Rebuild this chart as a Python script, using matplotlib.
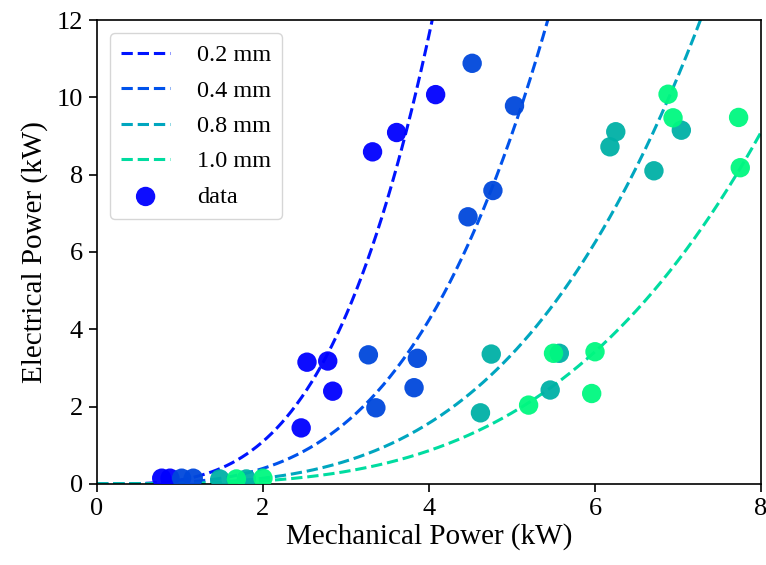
import numpy as np
import matplotlib
matplotlib.use("Agg")
import matplotlib.pyplot as plt

# Fitted curves: P_e = a * P_m ** n
gap_labels = ["0.2 mm", "0.4 mm", "0.8 mm", "1.0 mm"]
fit_a = [0.1042, 0.03806, 0.01412, 0.007734]
fit_n = [3.4, 3.4, 3.4, 3.4]
line_colors = ["#0014ff", "#0052eb", "#00a6bf", "#00dca0"]
point_colors = ["#0000ff", "#0048dc", "#00b0a6", "#00f880"]

# measured points per gap (mechanical kW, electrical kW)
mech_02 = [0.78, 0.88, 2.46, 2.53, 2.78, 2.84, 3.32, 3.61, 4.08]
elec_02 = [0.15, 0.15, 1.45, 3.15, 3.18, 2.40, 8.59, 9.09, 10.07]
mech_04 = [1.02, 1.16, 3.27, 3.36, 3.82, 3.86, 4.47, 4.52, 4.77, 5.03]
elec_04 = [0.15, 0.15, 3.34, 1.97, 2.49, 3.25, 6.91, 10.88, 7.59, 9.78]
mech_08 = [1.48, 1.80, 4.62, 4.75, 5.46, 5.57, 6.18, 6.25, 6.71, 7.04]
elec_08 = [0.13, 0.13, 1.84, 3.36, 2.43, 3.38, 8.72, 9.11, 8.10, 9.15]
mech_10 = [1.68, 2.00, 5.20, 5.50, 5.96, 6.00, 6.88, 6.94, 7.73, 7.75]
elec_10 = [0.13, 0.15, 2.04, 3.38, 2.34, 3.42, 10.08, 9.47, 9.48, 8.18]

mech = [mech_02, mech_04, mech_08, mech_10]
elec = [elec_02, elec_04, elec_08, elec_10]

plt.rcParams['font.family'] = ['Liberation Serif', 'DejaVu Serif']

fig = plt.figure(figsize=(7.66, 5.65), dpi=100)
ax = fig.add_axes([0.1266, 0.1434, 0.8669, 0.8212])

x = np.linspace(0, 8, 400)
for a, n, c, lab in zip(fit_a, fit_n, line_colors, gap_labels):
    ax.plot(x, a * x ** n, '--', color=c, lw=2.2, label=lab)

for i in range(4):
    ax.scatter(mech[i], elec[i], s=195, color=point_colors[i], alpha=0.95,
               edgecolors='none', zorder=3, label='data' if i == 0 else None)

ax.set_xlim(0, 8)
ax.set_ylim(0, 12)
ax.set_xticks([0, 2, 4, 6, 8])
ax.set_yticks([0, 2, 4, 6, 8, 10, 12])
ax.tick_params(labelsize=19, direction='out', length=6, width=1.2, pad=4)
ax.set_xlabel("Mechanical Power (kW)", fontsize=21, labelpad=2)
ax.set_ylabel("Electrical Power (kW)", fontsize=21, labelpad=6)
for s in ax.spines.values():
    s.set_linewidth(1.2)

ax.legend(loc='upper left', fontsize=17.5, frameon=True, borderpad=0.45,
          labelspacing=0.55, handletextpad=1.1, borderaxespad=0.55)

fig.savefig("out.png", dpi=100)
